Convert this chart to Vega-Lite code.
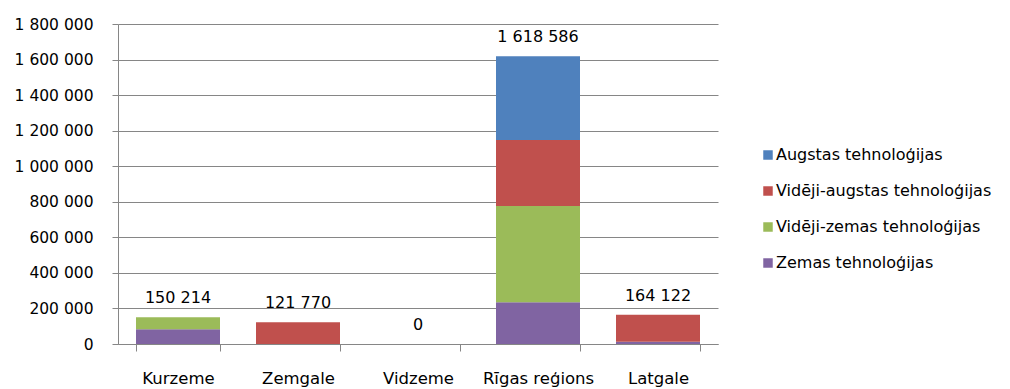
{
  "$schema": "https://vega.github.io/schema/vega-lite/v6.json",
  "width": 600,
  "height": 320,
  "autosize": {"type": "none"},
  "padding": {"left": 118, "top": 24, "right": 292, "bottom": 45},
  "background": "white",
  "config": {
    "font": "DejaVu Sans",
    "view": {"stroke": null}
  },
  "data": {
    "values": [
      {"region": "Kurzeme", "type": "Zemas tehnoloģijas", "ord": 1, "value": 83000},
      {"region": "Kurzeme", "type": "Vidēji-zemas tehnoloģijas", "ord": 2, "value": 67214},
      {"region": "Zemgale", "type": "Vidēji-augstas tehnoloģijas", "ord": 3, "value": 121770},
      {"region": "Vidzeme", "type": "Zemas tehnoloģijas", "ord": 1, "value": 0},
      {"region": "Rīgas reģions", "type": "Zemas tehnoloģijas", "ord": 1, "value": 235000},
      {"region": "Rīgas reģions", "type": "Vidēji-zemas tehnoloģijas", "ord": 2, "value": 541000},
      {"region": "Rīgas reģions", "type": "Vidēji-augstas tehnoloģijas", "ord": 3, "value": 371000},
      {"region": "Rīgas reģions", "type": "Augstas tehnoloģijas", "ord": 4, "value": 471586},
      {"region": "Latgale", "type": "Zemas tehnoloģijas", "ord": 1, "value": 12000},
      {"region": "Latgale", "type": "Vidēji-augstas tehnoloģijas", "ord": 3, "value": 152122}
    ]
  },
  "layer": [
    {
      "mark": {"type": "bar"},
      "encoding": {
        "x": {
          "field": "region",
          "type": "nominal",
          "sort": ["Kurzeme", "Zemgale", "Vidzeme", "Rīgas reģions", "Latgale"],
          "scale": {"paddingInner": 0.3, "paddingOuter": 0.15},
          "axis": {
            "title": null,
            "labelAngle": 0,
            "tickBand": "extent",
            "tickSize": 7,
            "tickColor": "#868686",
            "domainColor": "#868686",
            "labelPadding": 19,
            "labelFontSize": 16.5,
            "labelColor": "black",
            "labelOverlap": false
          }
        },
        "y": {
          "field": "value",
          "type": "quantitative",
          "aggregate": "sum",
          "stack": "zero",
          "scale": {"domain": [0, 1800000]},
          "axis": {
            "title": null,
            "values": [0, 200000, 400000, 600000, 800000, 1000000, 1200000, 1400000, 1600000, 1800000],
            "tickCount": 20,
            "labelExpr": "replace(format(datum.value, ',d'), /,/g, ' ')",
            "labelOverlap": false,
            "labelFlush": false,
            "tickSize": 6,
            "tickColor": "#868686",
            "domainColor": "#868686",
            "gridColor": "#868686",
            "labelPadding": 19,
            "labelFontSize": 15.5,
            "labelColor": "black"
          }
        },
        "color": {
          "field": "type",
          "type": "nominal",
          "sort": ["Augstas tehnoloģijas", "Vidēji-augstas tehnoloģijas", "Vidēji-zemas tehnoloģijas", "Zemas tehnoloģijas"],
          "scale": {
            "domain": ["Augstas tehnoloģijas", "Vidēji-augstas tehnoloģijas", "Vidēji-zemas tehnoloģijas", "Zemas tehnoloģijas"],
            "range": ["#4F81BD", "#C0504D", "#9BBB59", "#8064A2"]
          },
          "legend": {
            "title": null,
            "orient": "none",
            "legendX": 642,
            "legendY": 123,
            "symbolType": "square",
            "symbolSize": 90,
            "symbolStrokeWidth": 0,
            "labelFontSize": 16,
            "labelLimit": 400,
            "labelColor": "black",
            "labelOffset": 0,
            "rowPadding": 20
          }
        },
        "order": {"field": "ord", "type": "quantitative"}
      }
    },
    {
      "mark": {"type": "text", "dy": -19, "fontSize": 16, "color": "black", "baseline": "middle"},
      "encoding": {
        "x": {"field": "region", "type": "nominal", "sort": ["Kurzeme", "Zemgale", "Vidzeme", "Rīgas reģions", "Latgale"]},
        "y": {"field": "value", "type": "quantitative", "aggregate": "sum"},
        "text": {"field": "lbl", "type": "nominal"}
      },
      "transform": [
        {"aggregate": [{"op": "sum", "field": "value", "as": "total"}], "groupby": ["region"]},
        {"calculate": "replace(format(datum.total, ',d'), /,/g, ' ')", "as": "lbl"},
        {"calculate": "datum.total", "as": "value"}
      ]
    }
  ]
}
